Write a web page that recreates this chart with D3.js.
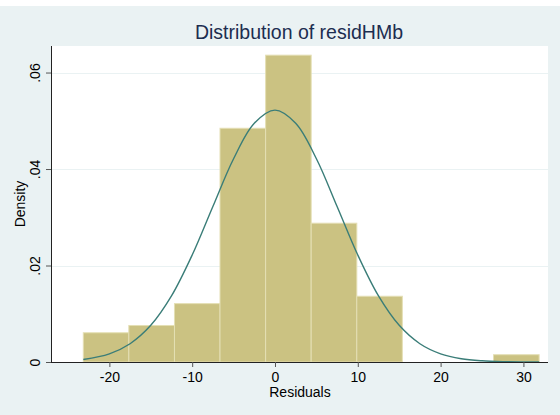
<!DOCTYPE html>
<html>
<head>
<meta charset="utf-8">
<script src="https://cdn.jsdelivr.net/npm/d3@7"></script>
<style>
  html, body { margin: 0; padding: 0; background: #ffffff; }
  svg { display: block; }
  text { font-family: "Liberation Sans", Arial, Helvetica, sans-serif; }
</style>
</head>
<body>
<svg id="chart" width="560" height="415"></svg>
<script>
// Histogram bin edges (residuals) and bar densities
const binEdges = [-23.15, -17.65, -12.14, -6.64, -1.13, 4.37, 9.88, 15.38, 20.89, 26.39, 31.9];
const densities = [0.00606, 0.00757, 0.0121, 0.04845, 0.0636, 0.02877, 0.01363, 0, 0, 0.00151];

// Normal density overlay, sampled along the residual range
const curveX = [-23.15, -20, -17.5, -15, -12.5, -10, -7.5, -5, -2.5, 0, 2.5, 5, 7.5, 10, 12.5, 15, 17.5, 20, 22.5, 25, 27.5, 31.9];
const curveY = [0.00053, 0.0017, 0.00379, 0.0076, 0.01369, 0.02217, 0.03224, 0.04214, 0.04948, 0.0522,
                0.04948, 0.04214, 0.03224, 0.02217, 0.01369, 0.0076, 0.00379, 0.0017, 0.00068, 0.00025, 0.00008, 0.00001];

// Axis ticks
const xTicks = [-20, -10, 0, 10, 20, 30];
const xTickLabels = ["-20", "-10", "0", "10", "20", "30"];
const yTicks = [0, 0.02, 0.04, 0.06];
const yTickLabels = ["0", ".02", ".04", ".06"];

const title = "Distribution of residHMb";
const xTitle = "Residuals";
const yTitle = "Density";

const svg = d3.select("#chart");
const W = 560, H = 415;

const plot = { left: 51, right: 548, top: 46, bottom: 362 };

const x = d3.scaleLinear().domain([-27.05, 32.97]).range([plot.left, plot.right]);
const y = d3.scaleLinear().domain([0, 0.0655]).range([plot.bottom, plot.top]);

// Outer background
svg.append("rect").attr("x", 0).attr("y", 6).attr("width", W).attr("height", H - 6)
  .attr("fill", "#eaf2f3");

// Plot region
svg.append("rect")
  .attr("x", plot.left).attr("y", plot.top)
  .attr("width", plot.right - plot.left).attr("height", plot.bottom - plot.top)
  .attr("fill", "#ffffff");

// Horizontal grid lines
svg.append("g").selectAll("line").data(yTicks.filter(d => d > 0)).join("line")
  .attr("x1", plot.left).attr("x2", plot.right)
  .attr("y1", d => Math.round(y(d)) + 0.5).attr("y2", d => Math.round(y(d)) + 0.5)
  .attr("stroke", "#eaf2f3").attr("stroke-width", 1.2);

// Bars
const bins = densities.map((d, i) => ({ x0: binEdges[i], x1: binEdges[i + 1], d }));
svg.append("g").selectAll("rect").data(bins.filter(b => b.d > 0)).join("rect")
  .attr("x", b => x(b.x0))
  .attr("y", b => y(b.d))
  .attr("width", b => x(b.x1) - x(b.x0))
  .attr("height", b => y(0) - y(b.d))
  .attr("fill", "#cbc282")
  .attr("stroke", "#e4dfb4")
  .attr("stroke-width", 1);

// Normal curve
const pts = curveX.map((v, i) => [v, curveY[i]]);
svg.append("path")
  .datum(pts)
  .attr("fill", "none")
  .attr("stroke", "#3a7d78")
  .attr("stroke-width", 1.4)
  .attr("d", d3.line().x(d => x(d[0])).y(d => y(d[1])).curve(d3.curveCatmullRom.alpha(0.5)));

// X axis
const xAxis = d3.axisBottom(x).tickValues(xTicks).tickSize(5).tickPadding(5)
  .tickFormat((d, i) => xTickLabels[i]);
const gx = svg.append("g").attr("transform", `translate(0,${plot.bottom})`).call(xAxis);
gx.select(".domain").attr("stroke", "#222").attr("d", `M${plot.left},0.5H${plot.right}`);
gx.selectAll(".tick line").attr("stroke", "#555");
gx.selectAll(".tick text").attr("font-size", 14).attr("fill", "#000")
  .attr("font-family", "Liberation Sans, Arial, sans-serif");

// Y axis
const yAxis = d3.axisLeft(y).tickValues(yTicks).tickSize(5).tickPadding(0)
  .tickFormat((d, i) => yTickLabels[i]);
const gy = svg.append("g").attr("transform", `translate(${plot.left},0)`).call(yAxis);
gy.select(".domain").attr("stroke", "#222").attr("d", `M0.5,${plot.top}V${plot.bottom}`);
gy.selectAll(".tick line").attr("stroke", "#555");
gy.selectAll(".tick text")
  .attr("font-size", 14).attr("fill", "#000")
  .attr("font-family", "Liberation Sans, Arial, sans-serif")
  .attr("x", null).attr("dy", null)
  .attr("text-anchor", "middle")
  .attr("transform", "translate(-11,0) rotate(-90)");

// Titles
svg.append("text").attr("x", 299).attr("y", 39)
  .attr("text-anchor", "middle").attr("font-size", 19.5).attr("fill", "#1c2d50")
  .text(title);

svg.append("text").attr("x", 300).attr("y", 397)
  .attr("text-anchor", "middle").attr("font-size", 14).attr("fill", "#000")
  .text(xTitle);

svg.append("text")
  .attr("transform", `translate(25,${(plot.top + plot.bottom) / 2}) rotate(-90)`)
  .attr("text-anchor", "middle").attr("font-size", 14).attr("fill", "#000")
  .text(yTitle);
</script>
</body>
</html>
